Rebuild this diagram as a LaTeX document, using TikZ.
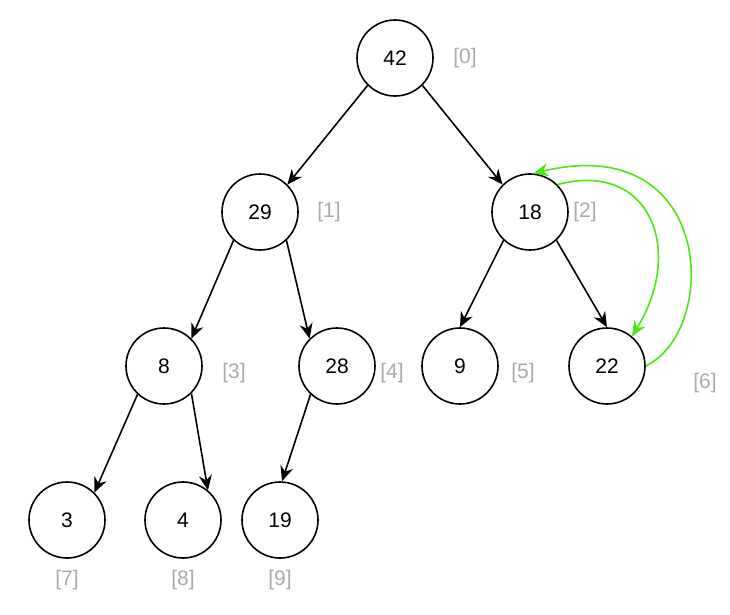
\documentclass[tikz,border=0pt]{standalone}
\usepackage{fontspec}
\setmainfont{Liberation Sans}
\usetikzlibrary{arrows.meta}
\definecolor{idxgray}{RGB}{170,170,170}
\definecolor{swapgreen}{RGB}{76,230,20}
\tikzset{
  heapnode/.style = {circle, draw=black, line width=1.6pt, minimum size=76pt,
                     inner sep=0pt, font=\fontsize{21}{25}\selectfont},
  idx/.style      = {text=idxgray, font=\fontsize{21}{25}\selectfont, inner sep=0pt},
  link/.style     = {draw=black, line width=1.6pt, -{Stealth[length=15pt,width=13pt]}},
  swap/.style     = {draw=swapgreen, line width=1.6pt, -{Stealth[length=15pt,width=13pt]}},
}
\begin{document}
\begin{tikzpicture}[x=1pt, y=-1pt]
    \useasboundingbox (0,0) rectangle (730,614);

    % heap nodes
    \node[heapnode] (n0) at (395, 58)  {42};
    \node[heapnode] (n1) at (260, 212) {29};
    \node[heapnode] (n2) at (530, 212) {18};
    \node[heapnode] (n3) at (164, 366) {8};
    \node[heapnode] (n4) at (337, 366) {28};
    \node[heapnode] (n5) at (460, 366) {9};
    \node[heapnode] (n6) at (607, 366) {22};
    \node[heapnode] (n7) at (67, 520)  {3};
    \node[heapnode] (n8) at (183, 520) {4};
    \node[heapnode] (n9) at (280, 520) {19};

    % array indices
    \node[idx] (i0) at (465, 58)  {[0]};
    \node[idx] (i1) at (329, 212) {[1]};
    \node[idx] (i2) at (585, 212) {[2]};
    \node[idx] (i3) at (234, 373) {[3]};
    \node[idx] (i4) at (392, 373) {[4]};
    \node[idx] (i5) at (523, 373) {[5]};
    \node[idx] (i6) at (705, 383) {[6]};
    \node[idx] (i7) at (67, 580)  {[7]};
    \node[idx] (i8) at (183, 580) {[8]};
    \node[idx] (i9) at (280, 580) {[9]};

    \draw[link] (n0.225) -- (n1.45);
    \draw[link] (n0.-45) -- (n2.135);
    \draw[link] (n1.227) -- (n3.45);
    \draw[link] (n1.-47) -- (n4.135);
    \draw[link] (n2.227) -- (n5.north);
    \draw[link] (n2.-47) -- (n6.north);
    \draw[link] (n3.227) -- (n7.45);
    \draw[link] (n3.-45) -- (n8.50);
    \draw[link] (n4.227) -- (n9.87);

    % swap 18 <-> 22
    \draw[swap] (n2.45) .. controls (650,160) and (685,250) .. (n6.50);
    \draw[swap] (n6.east) .. controls (720,330) and (715,130) .. (n2.85);
\end{tikzpicture}
\end{document}
